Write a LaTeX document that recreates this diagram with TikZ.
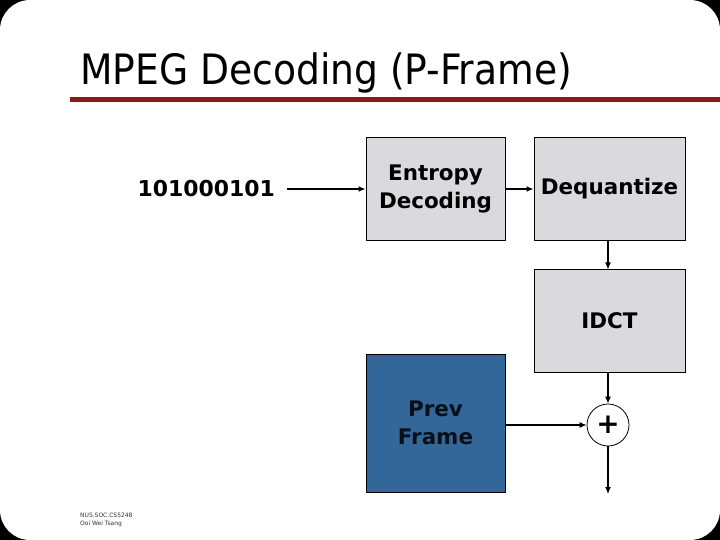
\documentclass[tikz,border=0pt]{standalone}
\usepackage{fontspec}
\setmainfont{DejaVu Sans}
\newfontfamily\titlefont{DejaVu Sans Condensed}
\usetikzlibrary{arrows.meta}
\definecolor{boxgray}{RGB}{217,217,222}
\definecolor{prevblue}{RGB}{51,102,153}
\definecolor{barred}{RGB}{140,26,26}
\tikzset{
  stage/.style = {draw = black, line width = 1bp, fill = boxgray, align = center,
    font = \bfseries\fontsize{21.5}{28}\selectfont, inner sep = 0pt},
  flow/.style = {line width = 1.2bp, -{Latex[length = 7bp, width = 6bp]}},
}
\begin{document}
\begin{tikzpicture}[x = 1bp, y = -1bp]
    \useasboundingbox (0, 0) rectangle (720, 540);
    \fill[black] (0, 0) rectangle (720, 540);
    \fill[white, rounded corners = 30bp] (0, 0) rectangle (720, 540);
    % title and bar
    \node[anchor = base west, inner sep = 0pt, font = \titlefont\fontsize{42}{48}\selectfont] (title) at (80, 85) {MPEG Decoding (P-Frame)};
    \fill[barred] (70, 97) rectangle (720, 102);
    % blocks
    \node[stage, minimum width = 139bp, minimum height = 102bp] (entropy) at (435.5, 189) {Entropy\\Decoding};
    \node[stage, minimum width = 151bp, minimum height = 102bp] (dequant) at (609.5, 189) {Dequantize};
    \node[stage, minimum width = 151bp, minimum height = 102bp] (idct) at (609.5, 321) {IDCT};
    \node[stage, fill = prevblue, text = black!85!prevblue, minimum width = 139bp, minimum height = 138bp] (prev) at (435.5, 423) {Prev\\Frame};
    \node[circle, draw = black, line width = 0.8bp, minimum size = 42bp, inner sep = 0pt, font = \bfseries\fontsize{28}{28}\selectfont] (plus) at (608, 425) {+};
    \node[anchor = east, inner sep = 0pt, font = \bfseries\fontsize{22}{26}\selectfont] (bits) at (275, 189) {101000101};
    \coordinate (out) at (608, 494);
    % connectors
    \draw[flow] ([xshift = 12bp]bits.east) -- (entropy.west);
    \draw[flow] (entropy.east) -- (dequant.west);
    \draw[flow] (dequant.south -| plus) -- (idct.north -| plus);
    \draw[flow] (idct.south -| plus) -- (plus.north);
    \draw[flow] (prev.east |- plus) -- (plus.west);
    \draw[flow] (plus.south) -- (out);
    % footer
    \node[anchor = north west, align = left, inner sep = 0pt, text = black!80, font = \fontsize{6}{8}\selectfont] (footer) at (80, 513) {NUS.SOC.CS5248\\Ooi Wei Tsang};
\end{tikzpicture}
\end{document}
